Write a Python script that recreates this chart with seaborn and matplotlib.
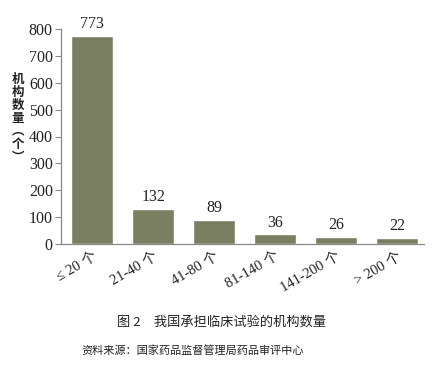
import matplotlib
matplotlib.use("Agg")
import pandas as pd
import seaborn as sns
import matplotlib.pyplot as plt

sns.set_style("white")
plt.rcParams['font.family'] = ['Liberation Serif', 'Noto Sans CJK SC', 'DejaVu Sans']

# data
categories = ["≤ 20 个", "21-40 个", "41-80 个", "81-140 个", "141-200 个", "> 200 个"]
counts = [773, 132, 89, 36, 26, 22]

df = pd.DataFrame({"group": categories, "count": counts})

fig = plt.figure(figsize=(4.43, 3.75), dpi=100)
ax = fig.add_axes([0.138, 0.349, 0.819, 0.574])

sns.barplot(data=df, x="group", y="count", color="#7b7f62", width=0.69,
            saturation=1, ax=ax)

for i, v in enumerate(counts):
    ax.text(i, v + 14, str(v), ha="center", va="bottom", fontsize=11.5,
            color="#222222")

ax.set_ylim(0, 800)
ax.set_xlim(-0.51, 5.44)
ax.set_yticks(range(0, 801, 100))
ax.tick_params(axis="y", labelsize=11.5, length=4, width=0.8, color="#888888",
               labelcolor="#222222", pad=2, left=True)
ax.tick_params(axis="x", length=0, labelcolor="#222222", pad=4)
for lab in ax.get_xticklabels():
    lab.set_rotation(30)
    lab.set_ha("right")
    lab.set_rotation_mode("anchor")
    lab.set_fontsize(10.5)
ax.set_xlabel("")
ax.set_ylabel("")
sns.despine(ax=ax)
for s in ["left", "bottom"]:
    ax.spines[s].set_color("#888888")
    ax.spines[s].set_linewidth(0.9)

fig.text(0.040, 0.685, "机\n构\n数\n量\n︵\n个\n︶", ha="center", va="center",
         fontsize=9, fontweight="bold", linespacing=1.0,
         family=["Noto Sans CJK SC", "DejaVu Sans"], color="#222222")

fig.text(0.50, 0.141, "图 2　我国承担临床试验的机构数量", ha="center", va="center",
         fontsize=9.5, family=["Noto Sans CJK SC", "DejaVu Sans"], color="#222222")
fig.text(0.435, 0.066, "资料来源：国家药品监督管理局药品审评中心", ha="center", va="center",
         fontsize=8, family=["Noto Sans CJK SC", "DejaVu Sans"], color="#222222")

fig.savefig("out.png", dpi=100)
